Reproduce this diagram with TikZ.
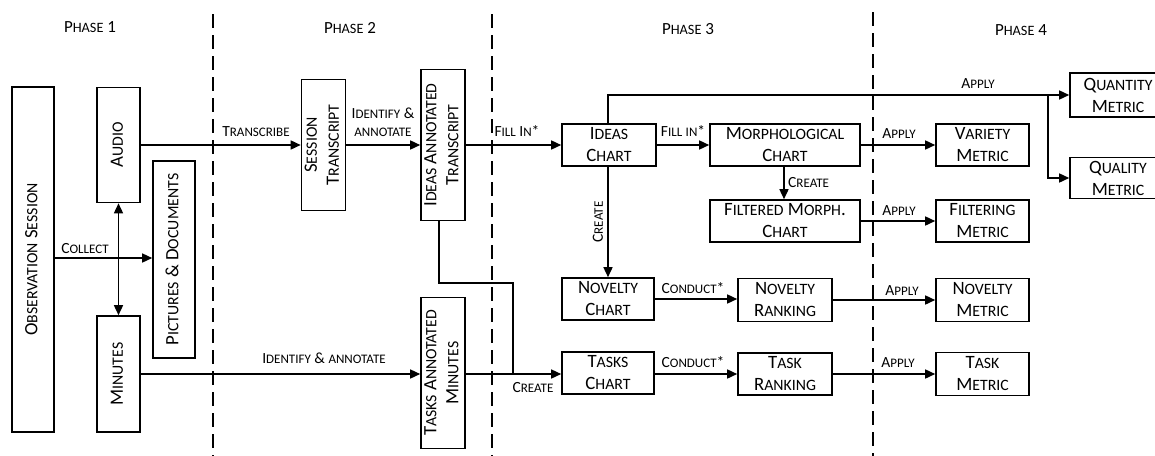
\documentclass[tikz,border=0pt]{standalone}
\usepackage{fontspec}
\setmainfont{Carlito}
\usetikzlibrary{arrows.meta}
\ExplSyntaxOn
\cs_new:Npn \__fsc_char:N #1
  {
    \int_compare:nNnTF { `#1 } > { 96 }
      {
        \int_compare:nNnTF { `#1 } < { 123 }
          { { \fontsize { \fp_eval:n { 0.84 * \use:c { f@size } } } { \use:c { f@baselineskip } } \selectfont \text_uppercase:n {#1} } }
          { #1 }
      }
      { #1 }
  }
\NewDocumentCommand \fsc { m }
  {
    \seq_set_split:Nnn \l_tmpa_seq { ~ } {#1}
    \seq_map_indexed_inline:Nn \l_tmpa_seq
      { \int_compare:nNnT {##1} > {1} { \c_space_tl } \tl_map_function:nN {##2} \__fsc_char:N }
  }
\ExplSyntaxOff
\newcommand{\rtext}[1]{\rotatebox{90}{\begin{tabular}{@{}c@{}}#1\end{tabular}}}
\begin{document}
\begin{tikzpicture}[x=1pt,y=-1pt,
  box/.style={draw, line width=1.6pt, inner sep=0pt, align=center, font=\fontsize{18.8}{22}\selectfont},
  lbl/.style={font=\fontsize{15.5}{18}\selectfont, inner sep=0pt, align=center},
  conn/.style={line width=1.5pt, -{Triangle[length=10pt,width=9pt]}},
  plain/.style={line width=1.5pt},
  phase/.style={font=\fontsize{17}{20}\selectfont, inner sep=0pt},
  divider/.style={line width=1.6pt, dash pattern=on 14pt off 7pt}]
\useasboundingbox (0,0) rectangle (1155,455);

% phase labels
\node[phase] (p1) at (90,27) {\fsc{Phase 1}};
\node[phase] (p2) at (350,28) {\fsc{Phase 2}};
\node[phase] (p3) at (688,29) {\fsc{Phase 3}};
\node[phase] (p4) at (1021,30) {\fsc{Phase 4}};

% dividers
\coordinate (d1t) at (213,14); \coordinate (d1b) at (213,460);
\coordinate (d2t) at (492,14); \coordinate (d2b) at (492,460);
\coordinate (d3t) at (873,12); \coordinate (d3b) at (873,460);
\draw[divider] (d1t) -- (d1b);
\draw[divider] (d2t) -- (d2b);
\draw[divider] (d3t) -- (d3b);

% phase 1
\node[box, minimum width=42pt, minimum height=345pt] (obs) at (33,259.5) {\rtext{\fsc{Observation Session}}};
\node[box, minimum width=43pt, minimum height=115pt] (audio) at (118.5,145) {\rtext{\fsc{Audio}}};
\node[box, minimum width=43pt, minimum height=116pt] (minutes) at (118.5,374) {\rtext{\fsc{Minutes}}};
\node[box, minimum width=42pt, minimum height=197pt] (pics) at (174,259.5) {\rtext{\fsc{Pictures \& Documents}}};

% phase 2
\node[box, minimum width=43pt, minimum height=131pt] (sess) at (323.5,145) {\rtext{\fsc{Session}\\\fsc{Transcript}}};
\node[box, minimum width=42pt, minimum height=151pt] (iat) at (443,145) {\rtext{\fsc{Ideas Annotated}\\\fsc{Transcript}}};
\node[box, minimum width=42pt, minimum height=151pt] (tam) at (443,373) {\rtext{\fsc{Tasks Annotated}\\\fsc{Minutes}}};

% phase 3
\node[box, minimum width=94pt, minimum height=42pt] (ideas) at (609,145) {\fsc{Ideas}\\\fsc{Chart}};
\node[box, minimum width=150pt, minimum height=42pt] (morph) at (785,145) {\fsc{Morphological}\\\fsc{Chart}};
\node[box, minimum width=150pt, minimum height=42pt] (filt) at (785,221) {\fsc{Filtered Morph.}\\\fsc{Chart}};
\node[box, minimum width=92pt, minimum height=42pt] (novc) at (608,299) {\fsc{Novelty}\\\fsc{Chart}};
\node[box, minimum width=92pt, minimum height=42pt] (tasksc) at (608,373) {\fsc{Tasks}\\\fsc{Chart}};
\node[box, minimum width=94pt, minimum height=43pt] (novr) at (785,300) {\fsc{Novelty}\\\fsc{Ranking}};
\node[box, minimum width=94pt, minimum height=42pt] (taskr) at (785,374) {\fsc{Task}\\\fsc{Ranking}};

% phase 4
\node[box, minimum width=93pt, minimum height=42pt] (variety) at (982.5,145) {\fsc{Variety}\\\fsc{Metric}};
\node[box, minimum width=93pt, minimum height=42pt] (filtm) at (982.5,221) {\fsc{Filtering}\\\fsc{Metric}};
\node[box, minimum width=93pt, minimum height=43pt] (novm) at (982.5,300) {\fsc{Novelty}\\\fsc{Metric}};
\node[box, minimum width=93pt, minimum height=43pt] (taskm) at (982.5,374) {\fsc{Task}\\\fsc{Metric}};
\node[box, minimum width=96pt, minimum height=44pt] (quant) at (1118,95) {\fsc{Quantity}\\\fsc{Metric}};
\node[box, minimum width=96pt, minimum height=41pt] (qual) at (1118,178) {\fsc{Quality}\\\fsc{Metric}};

% connectors
\draw[conn] (obs.east |- 0,258) -- (pics.west |- 0,258);
\node[lbl] (lcollect) at (85,249) {\fsc{Collect}};
\draw[line width=1.5pt, {Triangle[length=10pt,width=9pt]}-{Triangle[length=10pt,width=9pt]}] (audio.south) -- (minutes.north);

\draw[conn] (audio.east) -- (sess.west);
\node[lbl] (ltrans) at (256,132) {\fsc{Transcribe}};
\draw[conn] (sess.east) -- (iat.west);
\node[lbl] (lident1) at (383,122) {\fsc{Identify \&}\\\fsc{annotate}};
\draw[conn] (minutes.east) -- (tam.west |- minutes.east);
\node[lbl] (lident2) at (324,358) {\fsc{Identify \& annotate}};

\draw[conn] (iat.east) -- (ideas.west);
\node[lbl] (lfill1) at (517,131) {\fsc{Fill In*}};
\draw[conn] (ideas.east) -- (morph.west);
\node[lbl] (lfill2) at (683,131) {\fsc{Fill in*}};

\coordinate (jn) at (513,374);
\draw[plain] (iat.south -| 439,0) |- (513,283) -- (jn);
\draw[conn] (tam.east |- 0,374) -- (tasksc.west |- 0,374);
\node[lbl] (lcreate1) at (533,388) {\fsc{Create}};

\draw[conn] (ideas.south -| 608,0) -- (novc.north);
\node[lbl, rotate=90] (lcreate2) at (598,222) {\fsc{Create}};

\draw[conn] (morph.south -| 784,0) -- (filt.north -| 784,0);
\node[lbl, anchor=west] (lcreate3) at (788,183) {\fsc{Create}};

\coordinate (topcorner) at (608,95);
\coordinate (branch) at (1048,95);
\draw[conn] (ideas.north -| topcorner) -- (topcorner) -- (quant.west);
\node[lbl] (lapply0) at (978,84) {\fsc{Apply}};
\draw[conn] (branch) |- (qual.west);

\draw[conn] (morph.east) -- (variety.west);
\node[lbl] (lapply1) at (899,134) {\fsc{Apply}};
\draw[conn] (filt.east) -- (filtm.west);
\node[lbl] (lapply2) at (899,211) {\fsc{Apply}};

\draw[conn] (novc.east) -- (novr.west |- novc.east);
\node[lbl] (lcond1) at (693,288) {\fsc{Conduct*}};
\draw[conn] (tasksc.east |- 0,374) -- (taskr.west |- 0,374);
\node[lbl] (lcond2) at (693,362) {\fsc{Conduct*}};

\draw[conn] (novr.east) -- (novm.west);
\node[lbl] (lapply3) at (902,291) {\fsc{Apply}};
\draw[conn] (taskr.east) -- (taskm.west);
\node[lbl] (lapply4) at (898,363) {\fsc{Apply}};
\end{tikzpicture}
\end{document}
